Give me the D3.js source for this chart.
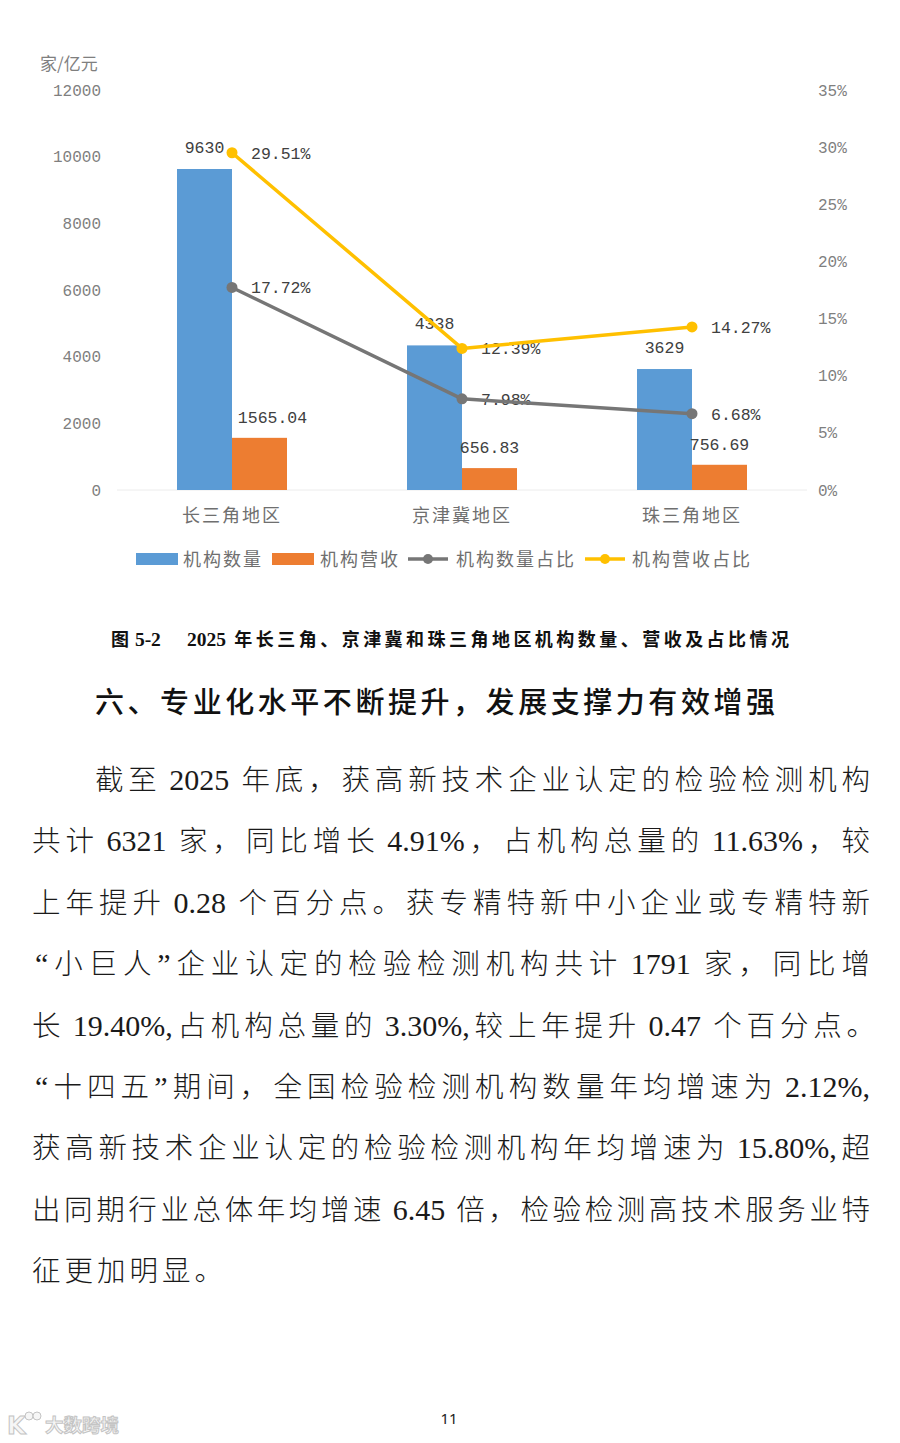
<!DOCTYPE html>
<html><head><meta charset="utf-8">
<script src="https://cdn.jsdelivr.net/npm/d3@7/dist/d3.min.js"></script>
<style>
html,body{margin:0;padding:0;background:#fff;}
svg{display:block;}
text.mixed, text.mixed tspan{white-space:pre;}
</style></head>
<body>
<svg id="page" width="900" height="1443"></svg>
<script>
// ---- data ----
const categories = ['长三角地区', '京津冀地区', '珠三角地区'];
const orgCount = [9630, 4338, 3629];
const orgRevenue = [1565.04, 656.83, 756.69];
const countShare = [17.72, 7.98, 6.68];
const revenueShare = [29.51, 12.39, 14.27];
const leftTicks = [0, 2000, 4000, 6000, 8000, 10000, 12000];
const rightTicks = [0, 5, 10, 15, 20, 25, 30, 35];
const seriesNames = ['机构数量', '机构营收', '机构数量占比', '机构营收占比'];
const unitLabel = '家/亿元';
const captionLabel = '图 5-2';
const captionTitle = '2025 年长三角、京津冀和珠三角地区机构数量、营收及占比情况';
const headingText = '六、专业化水平不断提升，发展支撑力有效增强';
const bodyLines = [
  '截至 2025 年底，获高新技术企业认定的检验检测机构',
  '共计 6321 家，同比增长 4.91%，占机构总量的 11.63%，较',
  '上年提升 0.28 个百分点。获专精特新中小企业或专精特新',
  '“小巨人”企业认定的检验检测机构共计 1791 家，同比增',
  '长 19.40%,占机构总量的 3.30%,较上年提升 0.47 个百分点。',
  '“十四五”期间，全国检验检测机构数量年均增速为 2.12%,',
  '获高新技术企业认定的检验检测机构年均增速为 15.80%,超',
  '出同期行业总体年均增速 6.45 倍，检验检测高技术服务业特',
  '征更加明显。'
];
const pageNumber = '11';
const watermarkText = '大数跨境';

// ---- styles ----
const C = {blue:'#5B9BD5', orange:'#ED7D31', gray:'#767676', yellow:'#FFC000',
           tick:'#7F7F7F', label:'#404040', cat:'#6f6f6f'};
const monoFont = '"Liberation Mono","DejaVu Sans Mono",monospace';
const cjkSans = '"Noto Sans CJK SC","Noto Sans",sans-serif';
const latinSerif = '"Liberation Serif","Times New Roman",serif';

const svg = d3.select('#page');
svg.append('rect').attr('width',900).attr('height',1443).attr('fill','#fff');

// ---- scales ----
const x = d3.scaleBand().domain(categories).range([117, 807]);
const inner = d3.scaleBand().domain(['count','rev']).range([0, 110]);
const innerOff = (x.bandwidth() - 110) / 2;
const yL = d3.scaleLinear().domain([0, 12000]).range([490, 90]);
const yR = d3.scaleLinear().domain([0, 35]).range([490, 90]);
const cx = c => x(c) + x.bandwidth() / 2;

const chart = svg.append('g');

chart.append('line').attr('x1', x.range()[0]).attr('x2', x.range()[1])
  .attr('y1', yL(0)).attr('y2', yL(0)).attr('stroke', '#ececec').attr('stroke-width', 1);

const axL = chart.append('g').attr('transform', 'translate(101,0)')
  .call(d3.axisLeft(yL).tickValues(leftTicks).tickSize(0).tickPadding(0).tickFormat(d3.format('d')));
const axR = chart.append('g').attr('transform', 'translate(818,0)')
  .call(d3.axisRight(yR).tickValues(rightTicks).tickSize(0).tickPadding(0).tickFormat(d => d + '%'));
[axL, axR].forEach(a => {
  a.select('.domain').remove();
  a.selectAll('text').attr('fill', C.tick).style('font-family', monoFont).style('font-size', '16px');
});

chart.append('text').attr('x', 40).attr('y', 70).text(unitLabel)
  .attr('fill', C.tick).style('font-family', cjkSans).style('font-size', '17px');

const axB = chart.append('g').attr('transform', 'translate(0,' + (yL(0) + 11) + ')')
  .call(d3.axisBottom(x).tickSize(0).tickPadding(8));
axB.select('.domain').remove();
axB.selectAll('text').attr('fill', C.cat).style('font-family', cjkSans)
  .style('font-size', '18px').style('letter-spacing', '2px');

const rows = categories.map((c, i) => ({c, i, count: orgCount[i], rev: orgRevenue[i],
  cs: countShare[i], rs: revenueShare[i]}));
chart.selectAll('rect.cnt').data(rows).join('rect').attr('class', 'cnt')
  .attr('x', d => x(d.c) + innerOff + inner('count')).attr('width', inner.bandwidth())
  .attr('y', d => yL(d.count)).attr('height', d => yL(0) - yL(d.count)).attr('fill', C.blue);
chart.selectAll('rect.rev').data(rows).join('rect').attr('class', 'rev')
  .attr('x', d => x(d.c) + innerOff + inner('rev')).attr('width', inner.bandwidth())
  .attr('y', d => yL(d.rev)).attr('height', d => yL(0) - yL(d.rev)).attr('fill', C.orange);

const lblStyle = s => s.attr('fill', C.label).style('font-family', monoFont).style('font-size', '16.5px');
chart.selectAll('text.cntl').data(rows).join('text').attr('class', 'cntl')
  .attr('x', d => x(d.c) + innerOff + inner('count') + inner.bandwidth() / 2)
  .attr('y', d => yL(d.count) - 16).attr('text-anchor', 'middle').text(d => d.count).call(lblStyle);
const revDx = [13, 0, 0];
chart.selectAll('text.revl').data(rows).join('text').attr('class', 'revl')
  .attr('x', d => x(d.c) + innerOff + inner('rev') + inner.bandwidth() / 2 + revDx[d.i])
  .attr('y', d => yL(d.rev) - 15).attr('text-anchor', 'middle').text(d => d.rev.toFixed(2)).call(lblStyle);

chart.selectAll('text.csl').data(rows).join('text').attr('class', 'csl')
  .attr('x', d => cx(d.c) + 19).attr('y', d => yR(d.cs) + 6).text(d => d.cs.toFixed(2) + '%').call(lblStyle);
chart.selectAll('text.rsl').data(rows).join('text').attr('class', 'rsl')
  .attr('x', d => cx(d.c) + 19).attr('y', d => yR(d.rs) + 6).text(d => d.rs.toFixed(2) + '%').call(lblStyle);

const drawLine = (key, color) => {
  const line = d3.line().x(d => cx(d.c)).y(d => yR(d[key]));
  chart.append('path').datum(rows).attr('d', line).attr('fill', 'none')
    .attr('stroke', color).attr('stroke-width', 3.5).attr('stroke-linejoin', 'round');
  chart.selectAll('circle.' + key).data(rows).join('circle').attr('class', key)
    .attr('cx', d => cx(d.c)).attr('cy', d => yR(d[key])).attr('r', 5.5).attr('fill', color);
};
drawLine('cs', C.gray);
drawLine('rs', C.yellow);

const leg = chart.append('g').attr('transform', 'translate(0,559)');
const legItems = [
  {name: seriesNames[0], type: 'rect', color: C.blue, x: 136, tx: 183},
  {name: seriesNames[1], type: 'rect', color: C.orange, x: 272, tx: 320},
  {name: seriesNames[2], type: 'line', color: C.gray, x: 408, tx: 456},
  {name: seriesNames[3], type: 'line', color: C.yellow, x: 585, tx: 632}
];
legItems.forEach(it => {
  if (it.type === 'rect') {
    leg.append('rect').attr('x', it.x).attr('y', -6).attr('width', 42).attr('height', 12).attr('fill', it.color);
  } else {
    leg.append('line').attr('x1', it.x).attr('x2', it.x + 40).attr('y1', 0).attr('y2', 0)
      .attr('stroke', it.color).attr('stroke-width', 3.5);
    leg.append('circle').attr('cx', it.x + 20).attr('cy', 0).attr('r', 5).attr('fill', it.color);
  }
  leg.append('text').attr('x', it.tx).attr('y', 6.5).text(it.name).attr('fill', C.cat)
    .style('font-family', cjkSans).style('font-size', '18px').style('letter-spacing', '2px');
});

// ---- justified mixed CJK/Latin text ----
const isCJK = ch => /[\u2018-\u201F\u3000-\u303F\u3400-\u9FFF\uFF00-\uFFEF]/.test(ch);
const isQuote = ch => /[\u2018-\u201F]/.test(ch);
function tokenize(str) {
  const toks = [];
  let buf = '';
  for (const ch of str) {
    if (isCJK(ch)) {
      if (buf) { toks.push({t: buf, cjk: false}); buf = ''; }
      toks.push({t: ch, cjk: !isQuote(ch), quote: isQuote(ch)});
    } else buf += ch;
  }
  if (buf) toks.push({t: buf, cjk: false});
  return toks;
}
function mixedText(str, opt) {
  const toks = tokenize(str);
  const g = svg.append('text').attr('class', 'mixed').attr('y', opt.y).attr('fill', opt.fill)
    .attr('xml:space', 'preserve');
  toks.forEach(tk => {
    tk.el = g.append('tspan').text(tk.t)
      .style('font-family', tk.cjk ? cjkSans : latinSerif)
      .style('font-size', (tk.cjk ? opt.cjkSize : opt.latinSize) + 'px')
      .style('font-weight', tk.cjk ? (opt.cjkWeight || 'normal') : (opt.latinWeight || 'normal'));
    tk.w = tk.el.node().getComputedTextLength();
  });
  const total = d3.sum(toks, d => d.w);
  const gaps = toks.length - 1;
  const gap = opt.gap != null ? opt.gap : (opt.endX - opt.startX - total) / gaps;
  let cur = opt.startX;
  toks.forEach(tk => { tk.el.attr('x', cur); cur += tk.w + gap; });
  return g;
}

mixedText(captionLabel, {y: 646, fill: '#111', startX: 111, gap: 1, cjkSize: 18, latinSize: 19.5,
  cjkWeight: 700, latinWeight: 700});
mixedText(captionTitle, {y: 646, fill: '#111', startX: 187, endX: 789, cjkSize: 18, latinSize: 19.5,
  cjkWeight: 700, latinWeight: 700});

svg.append('text').attr('x', 95).attr('y', 713).text(headingText)
  .attr('textLength', 680).attr('lengthAdjust', 'spacing')
  .attr('fill', '#111').style('font-family', cjkSans).style('font-weight', '500').style('font-size', '29px');

const lineTop = 790, lineStep = 61.4;
bodyLines.forEach((t, i) => {
  const startX = i === 0 ? 95 : 32;
  const endX = i === 4 ? 875 : 870;
  const last = i === bodyLines.length - 1;
  mixedText(t, {y: lineTop + i * lineStep, fill: '#1a1a1a', startX: (i === 3 || i === 5) ? 35 : startX, endX,
    gap: last ? 4 : null, cjkSize: 28.5, latinSize: 30, cjkWeight: 300, latinWeight: 400});
});

svg.append('text').attr('x', 449).attr('y', 1424).attr('text-anchor', 'middle').text(pageNumber)
  .attr('fill', '#222').style('font-family', '"Noto Sans",sans-serif').style('font-size', '15px');

// watermark
const wm = svg.append('g');
const wmStyle = s => s.attr('fill', '#f6f6f6').attr('stroke', '#c4c4c4').attr('stroke-width', 1);
wm.append('text').attr('x', 7).attr('y', 1434).text('K').call(wmStyle)
  .style('font-family', '"DejaVu Sans",sans-serif').style('font-weight', '700').style('font-size', '24px');
wm.append('circle').attr('cx', 29).attr('cy', 1416).attr('r', 4).call(wmStyle);
wm.append('circle').attr('cx', 37).attr('cy', 1416).attr('r', 4).call(wmStyle);
wm.append('text').attr('x', 45).attr('y', 1432).text(watermarkText).call(wmStyle)
  .style('font-family', cjkSans).style('font-weight', '700').style('font-size', '18.5px');
</script>
</body></html>
